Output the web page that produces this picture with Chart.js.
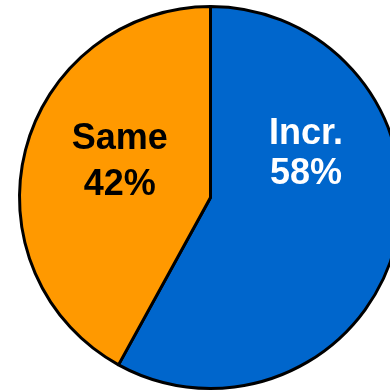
<!DOCTYPE html>
<html>
<head>
<meta charset="utf-8">
<script src="https://cdn.jsdelivr.net/npm/chart.js@4.4.1/dist/chart.umd.min.js"></script>
<style>
html, body { margin: 0; padding: 0; overflow: hidden; background: #fff; }
#wrap { position: absolute; left: 0; top: 0; width: 421px; height: 391px; }
</style>
</head>
<body>
<div id="wrap"><canvas id="c"></canvas></div>
<script>
const categories = ["Incr.", "Same"];
const values = [58, 42];
const percentLabels = ["58%", "42%"];
const sliceColors = ["#0066CC", "#FF9900"];
const textColors = ["#FFFFFF", "#000000"];

// label placement relative to pie center, in units of outer radius
const labelPlacement = [
  { dx: 0.50, dy1: -0.282, dy2: -0.072 },
  { dx: -0.475, dy1: -0.256, dy2: -0.012 }
];

const labelPlugin = {
  id: 'sliceLabels',
  afterDatasetsDraw(chart) {
    const meta = chart.getDatasetMeta(0);
    const ctx = chart.ctx;
    ctx.save();
    ctx.font = 'bold 36px "Liberation Sans", Arial, sans-serif';
    ctx.textAlign = 'center';
    ctx.textBaseline = 'alphabetic';
    meta.data.forEach((arc, i) => {
      const p = labelPlacement[i];
      const r = arc.outerRadius;
      ctx.fillStyle = textColors[i];
      ctx.fillText(categories[i], arc.x + p.dx * r, arc.y + p.dy1 * r);
      ctx.fillText(percentLabels[i], arc.x + p.dx * r, arc.y + p.dy2 * r);
    });
    ctx.restore();
  }
};

new Chart(document.getElementById('c'), {
  type: 'pie',
  data: {
    labels: categories,
    datasets: [{
      data: values,
      backgroundColor: sliceColors,
      borderColor: '#000000',
      borderWidth: 3,
      radius: 191,
      offset: 0,
      hoverOffset: 0
    }]
  },
  options: {
    responsive: true,
    maintainAspectRatio: false,
    animation: false,
    events: [],
    layout: { padding: { top: 4, bottom: 0, left: 0, right: 0 } },
    plugins: {
      legend: { display: false },
      tooltip: { enabled: false }
    }
  },
  plugins: [labelPlugin]
});
</script>
</body>
</html>
